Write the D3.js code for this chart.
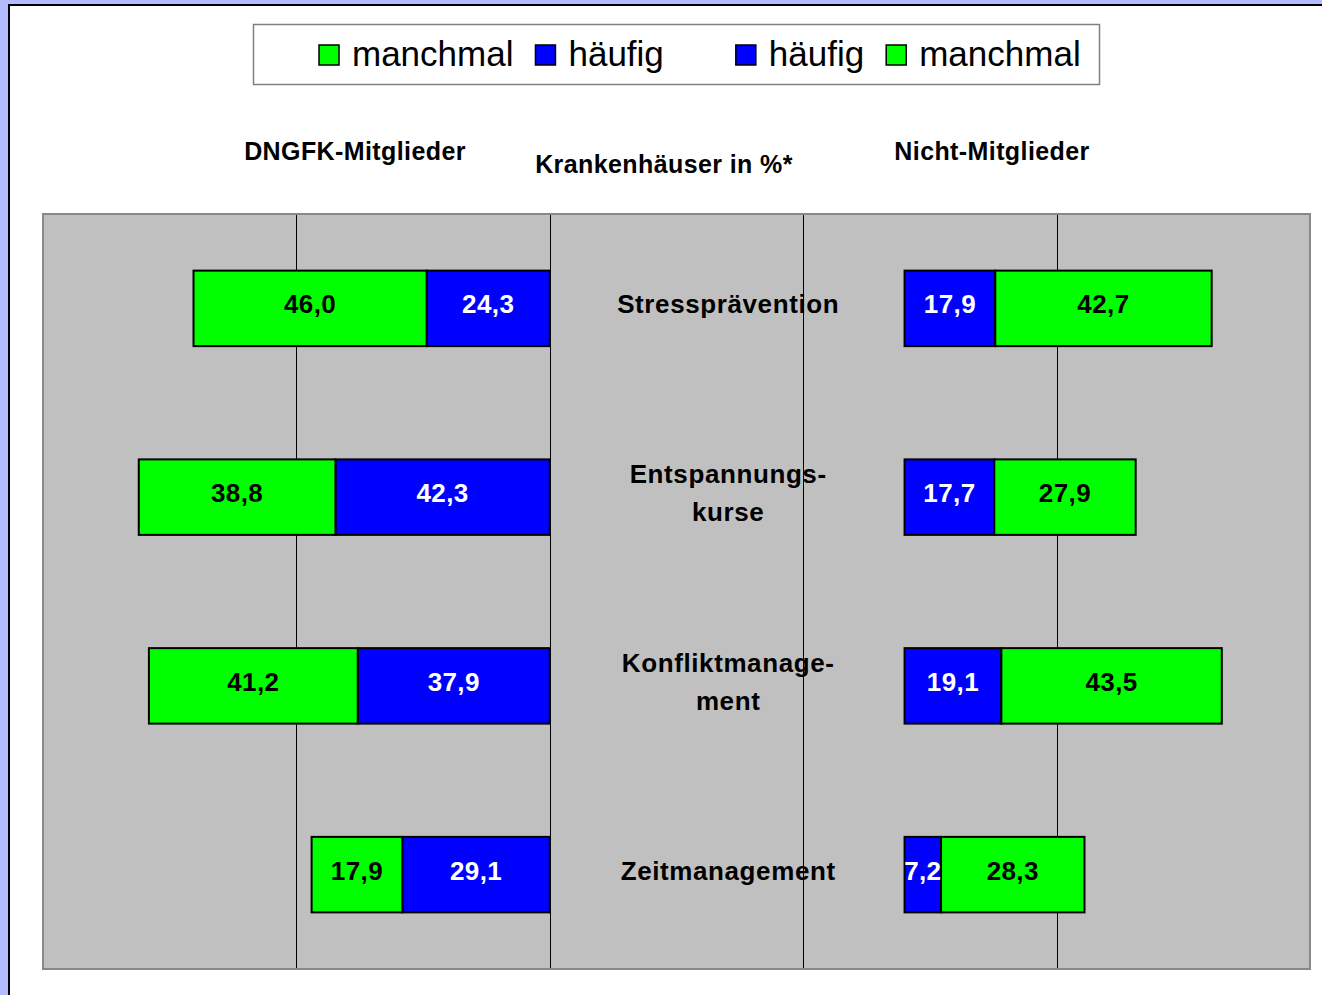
<!DOCTYPE html>
<html>
<head>
<meta charset="utf-8">
<script src="https://cdn.jsdelivr.net/npm/d3@7"></script>
<style>
  body { margin: 0; padding: 0; background: #b4bcff; }
  svg { display: block; font-family: "Liberation Sans", Arial, sans-serif; }
</style>
</head>
<body>
<svg id="chart" width="1322" height="995"></svg>
<script>
var categories = ["Stressprävention", "Entspannungskurse", "Konfliktmanagement", "Zeitmanagement"];
var categoryLines = [["Stressprävention"], ["Entspannungs-", "kurse"], ["Konfliktmanage-", "ment"], ["Zeitmanagement"]];

// DNGFK-Mitglieder (left side)
var memberManchmal = [46.0, 38.8, 41.2, 17.9];
var memberHaeufig = [24.3, 42.3, 37.9, 29.1];

// Nicht-Mitglieder (right side)
var nonMemberHaeufig = [17.9, 17.7, 19.1, 7.2];
var nonMemberManchmal = [42.7, 27.9, 43.5, 28.3];

var gridTicks = [-50, 0, 50, 100];
var legendLabels = ["manchmal", "häufig", "häufig", "manchmal"];
var legendColors = ["#00ff00", "#0000ff", "#0000ff", "#00ff00"];

var green = "#00ff00", blue = "#0000ff";
var rightStart = 70; // right bars begin here on the shared axis

var svg = d3.select("#chart");

// white panel
svg.append("rect")
    .attr("x", 9).attr("y", 5)
    .attr("width", 1330).attr("height", 1000)
    .attr("fill", "#fff")
    .attr("stroke", "#000")
    .attr("stroke-width", 2);

var plot = { left: 43, right: 1310, top: 214, bottom: 969 };

var x = d3.scaleLinear()
    .domain([-100, 150])
    .range([plot.left, plot.right]);

var y = d3.scaleBand()
    .domain(categories)
    .range([plot.top, plot.bottom])
    .paddingInner(0.6)
    .paddingOuter(0.3);

var fmt = function (v) { return d3.format(".1f")(v).replace(".", ","); };

// plot area
svg.append("rect")
    .attr("x", plot.left).attr("y", plot.top)
    .attr("width", plot.right - plot.left)
    .attr("height", plot.bottom - plot.top)
    .attr("fill", "#c0c0c0")
    .attr("stroke", "#888")
    .attr("stroke-width", 2);

// gridlines
svg.selectAll(".grid")
    .data(gridTicks)
    .enter().append("line")
    .attr("class", "grid")
    .attr("x1", function (d) { return Math.round(x(d)) + 0.5; })
    .attr("x2", function (d) { return Math.round(x(d)) + 0.5; })
    .attr("y1", plot.top + 1)
    .attr("y2", plot.bottom - 1)
    .attr("stroke", "#000")
    .attr("stroke-width", 1);

// build segments
var segments = [];
categories.forEach(function (c, i) {
    var h = memberHaeufig[i], m = memberManchmal[i];
    segments.push({ cat: c, x0: -h, x1: 0, v: h, color: blue, text: "#fff" });
    segments.push({ cat: c, x0: -h - m, x1: -h, v: m, color: green, text: "#000" });
    var nh = nonMemberHaeufig[i], nm = nonMemberManchmal[i];
    segments.push({ cat: c, x0: rightStart, x1: rightStart + nh, v: nh, color: blue, text: "#fff" });
    segments.push({ cat: c, x0: rightStart + nh, x1: rightStart + nh + nm, v: nm, color: green, text: "#000" });
});

svg.selectAll(".seg")
    .data(segments)
    .enter().append("rect")
    .attr("class", "seg")
    .attr("x", function (d) { return x(d.x0); })
    .attr("y", function (d) { return y(d.cat); })
    .attr("width", function (d) { return x(d.x1) - x(d.x0); })
    .attr("height", y.bandwidth())
    .attr("fill", function (d) { return d.color; })
    .attr("stroke", "#000")
    .attr("stroke-width", 2);

svg.selectAll(".val")
    .data(segments)
    .enter().append("text")
    .attr("class", "val")
    .attr("x", function (d) { return (x(d.x0) + x(d.x1)) / 2; })
    .attr("y", function (d) { return y(d.cat) + y.bandwidth() / 2 + 5; })
    .attr("text-anchor", "middle")
    .attr("font-size", 26)
    .attr("font-weight", "bold")
    .attr("letter-spacing", 0.4)
    .attr("fill", function (d) { return d.text; })
    .text(function (d) { return fmt(d.v); });

// category labels in the middle
categories.forEach(function (c, i) {
    var lines = categoryLines[i];
    var cy = y(c) + y.bandwidth() / 2 + 5;
    lines.forEach(function (line, j) {
        svg.append("text")
            .attr("x", x(rightStart / 2) + 1)
            .attr("y", cy + (j - (lines.length - 1) / 2) * 38)
            .attr("text-anchor", "middle")
            .attr("font-size", 26)
            .attr("font-weight", "bold")
            .attr("letter-spacing", 0.6)
            .attr("fill", "#000")
            .text(line);
    });
});

// headers
var headers = [
    { text: "DNGFK-Mitglieder", x: 355, y: 160 },
    { text: "Krankenhäuser in %*", x: 664, y: 173 },
    { text: "Nicht-Mitglieder", x: 992, y: 160 }
];
svg.selectAll(".hdr")
    .data(headers)
    .enter().append("text")
    .attr("class", "hdr")
    .attr("x", function (d) { return d.x; })
    .attr("y", function (d) { return d.y; })
    .attr("text-anchor", "middle")
    .attr("font-size", 25)
    .attr("font-weight", "bold")
    .attr("letter-spacing", 0.4)
    .text(function (d) { return d.text; });

// legend
svg.append("rect")
    .attr("x", 253.5).attr("y", 24.5)
    .attr("width", 846).attr("height", 60)
    .attr("fill", "#fff")
    .attr("stroke", "#808080")
    .attr("stroke-width", 1.5);

var lx = 319;
legendLabels.forEach(function (lab, i) {
    svg.append("rect")
        .attr("x", lx).attr("y", 45)
        .attr("width", 20).attr("height", 20)
        .attr("fill", legendColors[i])
        .attr("stroke", "#000")
        .attr("stroke-width", 1.5);
    var t = svg.append("text")
        .attr("x", lx + 33)
        .attr("y", 66)
        .attr("font-size", 35)
        .attr("fill", "#000")
        .text(lab);
    var w = t.node().getComputedTextLength();
    lx = lx + 33 + w + (i == 1 ? 72 : 22);
});
</script>
</body>
</html>
